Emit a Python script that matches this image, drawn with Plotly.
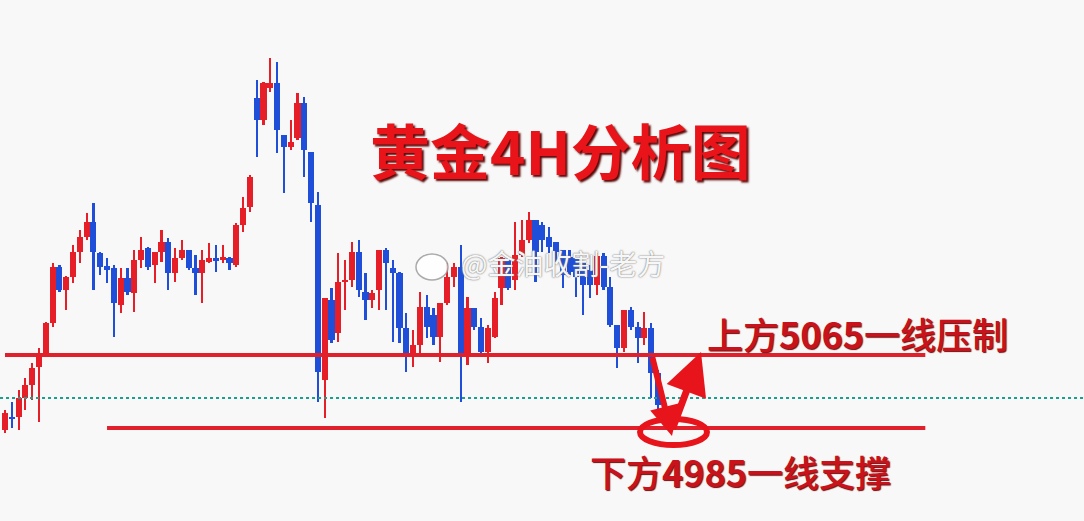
import plotly.graph_objects as go

# OHLC data (gold, 4H)
opens = [4983, 4997, 4997, 5018, 5032, 5052, 5065, 5100, 5161, 5136,
         5151, 5178, 5194, 5211, 5177, 5163, 5160, 5120, 5149, 5133,
         5169, 5182, 5164, 5178, 5189, 5155, 5171, 5180, 5160, 5155,
         5167, 5171, 5169, 5171, 5164, 5208, 5227, 5347, 5323, 5358,
         5363, 5306, 5293, 5303, 5341, 5288, 5229, 5038, 5125, 5089,
         5145, 5147, 5178, 5134, 5125, 5136, 5180, 5160, 5155, 5095,
         5065, 5076, 5118, 5109, 5085, 5122, 5151, 5161, 5067, 5117,
         5096, 5068, 5085, 5138, 5169, 5147, 5175, 5191, 5213, 5208,
         5194, 5189, 5180, 5172, 5171, 5166, 5158, 5142, 5174, 5140,
         5098, 5073, 5114, 5096, 5084, 5095, 5045]
highs = [5005, 5014, 5027, 5040, 5056, 5073, 5101, 5166, 5164, 5152,
         5186, 5202, 5221, 5232, 5178, 5171, 5164, 5160, 5160, 5180,
         5194, 5183, 5178, 5202, 5193, 5182, 5191, 5180, 5175, 5180,
         5188, 5186, 5186, 5172, 5210, 5238, 5262, 5366, 5364, 5391,
         5386, 5306, 5323, 5352, 5348, 5288, 5244, 5127, 5138, 5177,
         5169, 5189, 5191, 5155, 5136, 5180, 5182, 5169, 5156, 5111,
         5092, 5134, 5131, 5117, 5122, 5166, 5166, 5186, 5129, 5117,
         5106, 5098, 5134, 5172, 5171, 5211, 5213, 5222, 5213, 5211,
         5205, 5189, 5180, 5180, 5171, 5166, 5164, 5177, 5177, 5151,
         5098, 5114, 5118, 5101, 5112, 5100, 5049]
lows = [4980, 4985, 4983, 5005, 5016, 4992, 5064, 5096, 5134, 5114,
        5144, 5166, 5191, 5136, 5153, 5144, 5085, 5111, 5131, 5112,
        5160, 5158, 5144, 5167, 5136, 5145, 5169, 5158, 5131, 5122,
        5166, 5156, 5166, 5158, 5161, 5200, 5222, 5282, 5317, 5353,
        5286, 5243, 5290, 5301, 5260, 5211, 5014, 4996, 5078, 5079,
        5114, 5140, 5129, 5103, 5117, 5114, 5114, 5079, 5078, 5046,
        5052, 5065, 5084, 5076, 5057, 5120, 5140, 5014, 5054, 5092,
        5067, 5056, 5084, 5120, 5136, 5136, 5172, 5188, 5145, 5178,
        5177, 5166, 5138, 5153, 5129, 5109, 5127, 5131, 5136, 5096,
        5051, 5068, 5092, 5056, 5076, 5018, 5005]
closes = [5001, 4995, 5018, 5032, 5051, 5065, 5100, 5161, 5136, 5151,
          5178, 5194, 5211, 5178, 5161, 5158, 5122, 5149, 5134, 5169,
          5180, 5161, 5178, 5189, 5155, 5171, 5180, 5160, 5155, 5169,
          5171, 5169, 5172, 5166, 5208, 5226, 5260, 5323, 5363, 5363,
          5312, 5293, 5298, 5341, 5290, 5232, 5046, 5127, 5081, 5145,
          5147, 5178, 5136, 5125, 5133, 5180, 5166, 5155, 5095, 5067,
          5076, 5118, 5096, 5085, 5122, 5151, 5161, 5067, 5117, 5096,
          5068, 5095, 5127, 5171, 5138, 5175, 5191, 5213, 5178, 5191,
          5183, 5178, 5153, 5156, 5151, 5142, 5142, 5174, 5140, 5098,
          5073, 5114, 5096, 5084, 5095, 5045, 5010]

resistance_level = 5065
support_level = 4985
dotted_level = 5018

title_text = "黄金4H分析图"
resist_text = "上方<b>5065</b>一线压制"
support_text = "下方<b>4985</b>一线支撑"
watermark_text = "@金油收割-老方"

RED = "#e61e28"
BLUE = "#1f4fd8"
LINE_RED = "#e0202a"

idx = list(range(len(opens)))
up = [c >= o for o, c in zip(opens, closes)]

fig = go.Figure()

# wicks
for is_up, col in [(True, RED), (False, BLUE)]:
    xs = [i for i in idx if up[i] == is_up]
    fig.add_trace(go.Bar(
        x=xs, base=[lows[i] for i in xs],
        y=[highs[i] - lows[i] for i in xs],
        width=0.32, marker=dict(color=col, line=dict(width=0)),
        hoverinfo="skip", showlegend=False))
# bodies
for is_up, col in [(True, RED), (False, BLUE)]:
    xs = [i for i in idx if up[i] == is_up]
    fig.add_trace(go.Bar(
        x=xs, base=[min(opens[i], closes[i]) for i in xs],
        y=[max(abs(closes[i] - opens[i]), 1.5) for i in xs],
        width=0.9, marker=dict(color=col, line=dict(width=0)),
        hoverinfo="skip", showlegend=False))

# levels
fig.add_trace(go.Scatter(x=[-0.73, 160], y=[dotted_level, dotted_level], mode="lines",
                         line=dict(color="#1b9e8c", width=2, dash="dot"),
                         hoverinfo="skip", showlegend=False))
fig.add_trace(go.Scatter(x=[0, 135.3], y=[resistance_level, resistance_level], mode="lines",
                         line=dict(color=LINE_RED, width=4),
                         hoverinfo="skip", showlegend=False))
fig.add_trace(go.Scatter(x=[15.0, 135.3], y=[support_level, support_level], mode="lines",
                         line=dict(color=LINE_RED, width=4),
                         hoverinfo="skip", showlegend=False))

W, H = 1084, 521
def px(x):
    return x / W
def py(y):
    return 1 - y / H

shapes = [
    dict(type="circle", xref="paper", yref="paper",
         x0=px(640), x1=px(707), y0=py(445), y1=py(419),
         line=dict(color="#e8141c", width=6)),
    # weibo-like logo next to watermark
    dict(type="circle", xref="paper", yref="paper",
         x0=px(416), x1=px(448), y0=py(280), y1=py(254),
         line=dict(color="rgba(150,150,150,0.8)", width=1.5),
         fillcolor="rgba(255,255,255,0.85)"),
]

annotations = [
    dict(text=title_text, xref="paper", yref="paper", x=px(560), y=py(148),
         showarrow=False, xanchor="center", yanchor="middle",
         font=dict(family="Noto Sans CJK SC", size=60, color="#e8141a", weight=700,
                   shadow="2px 2px 2px #5a0808")),
    dict(text=resist_text, xref="paper", yref="paper", x=px(857), y=py(333),
         showarrow=False, xanchor="center", yanchor="middle",
         font=dict(family="Noto Sans CJK SC", size=36, color="#c8121c", weight=500,
                   shadow="1px 1px 1px #6a0a0a")),
    dict(text=support_text, xref="paper", yref="paper", x=px(740), y=py(471),
         showarrow=False, xanchor="center", yanchor="middle",
         font=dict(family="Noto Sans CJK SC", size=36, color="#c8121c", weight=500,
                   shadow="1px 1px 1px #6a0a0a")),
    dict(text=watermark_text, xref="paper", yref="paper", x=px(563), y=py(263),
         showarrow=False, xanchor="center", yanchor="middle",
         font=dict(family="Noto Sans CJK SC", size=28, color="rgba(255,255,255,0.95)",
                   shadow="0 0 2px #777, 0 0 1px #999")),
    # V arrows (head at x,y; tail offset in pixels)
    dict(xref="paper", yref="paper", axref="pixel", ayref="pixel",
         x=px(672), y=py(436), ax=-20, ay=-80, text="",
         showarrow=True, arrowhead=2, arrowsize=1.0, arrowwidth=6, arrowcolor="#e8141c"),
    dict(xref="paper", yref="paper", axref="pixel", ayref="pixel",
         x=px(701), y=py(352), ax=-29, ay=78, text="",
         showarrow=True, arrowhead=2, arrowsize=1.2, arrowwidth=7, arrowcolor="#e8141c"),
]

fig.update_layout(
    width=W, height=H,
    margin=dict(l=0, r=0, t=0, b=0),
    paper_bgcolor="#f8f8f8", plot_bgcolor="#f8f8f8",
    barmode="overlay", bargap=0,
    showlegend=False,
    xaxis=dict(range=[-0.735, 158.63], visible=False, fixedrange=True),
    yaxis=dict(range=[4883.08, 5454.04], visible=False, fixedrange=True),
    shapes=shapes, annotations=annotations,
)

fig.write_html("out.html", config={"displayModeBar": False},
               post_script="document.body.style.margin='0';document.body.style.overflow='hidden';")
